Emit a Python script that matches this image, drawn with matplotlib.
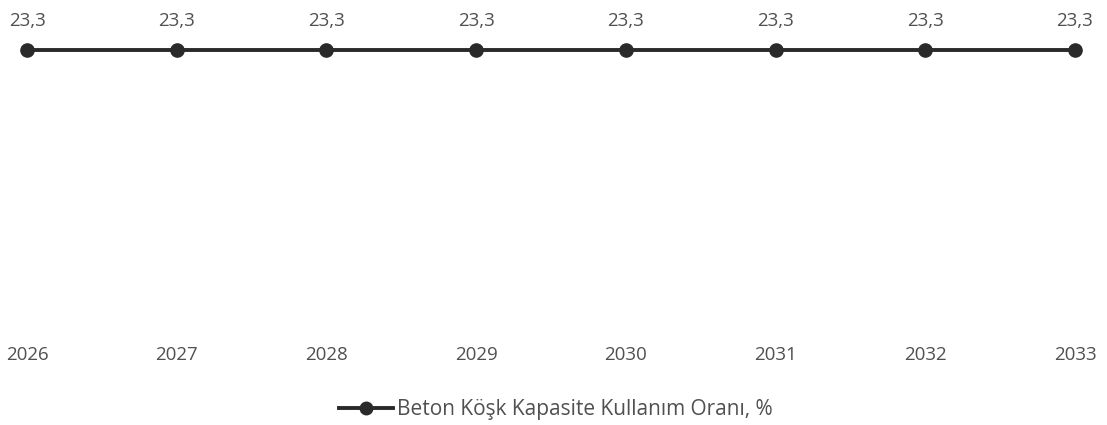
import matplotlib
matplotlib.use("Agg")
import matplotlib.pyplot as plt
from matplotlib.lines import Line2D

years = [2026, 2027, 2028, 2029, 2030, 2031, 2032, 2033]
values = [23.3, 23.3, 23.3, 23.3, 23.3, 23.3, 23.3, 23.3]
year_labels = [str(y) for y in years]
series_name = "Beton Köşk Kapasite Kullanım Oranı, %"

plt.rcParams['font.family'] = ['Open Sans', 'DejaVu Sans']

W, H = 1107, 425
fig = plt.figure(figsize=(W / 100, H / 100), dpi=100)
ax_bottom_px = 330
ax = fig.add_axes([0, 1 - ax_bottom_px / H, 1, ax_bottom_px / H])

line_color = "#2a2a2a"
text_color = "#505050"

ax.plot(years, values, color=line_color, lw=2.8, marker="o", ms=9.5,
        markerfacecolor=line_color, markeredgecolor=line_color)

for x, v in zip(years, values):
    ax.annotate(f"{v:.1f}".replace(".", ","), (x, v), xytext=(0, 14.5),
                textcoords="offset points", ha="center", va="bottom",
                fontsize=13.5, color=text_color)

px_per_year = (1075 - 27) / 7
ax.set_xlim(2026 - 27 / px_per_year, 2033 + (W - 1075) / px_per_year)
ax.set_ylim(0, 23.3 * ax_bottom_px / (ax_bottom_px - 50))

ax.set_xticks(years)
ax.set_xticklabels(year_labels, fontsize=13.5, color=text_color)
ax.tick_params(axis="x", length=0, pad=11.5)
ax.set_yticks([])
for s in ax.spines.values():
    s.set_visible(False)

handle = Line2D([0], [0], color=line_color, lw=2.8, marker="o", ms=9)
fig.legend([handle], [series_name], loc="center", bbox_to_anchor=(556 / W, 1 - 410 / H),
           frameon=False, fontsize=15, labelcolor=text_color, handlelength=2.6,
           handletextpad=0.2)

fig.savefig("out.png", dpi=100)
